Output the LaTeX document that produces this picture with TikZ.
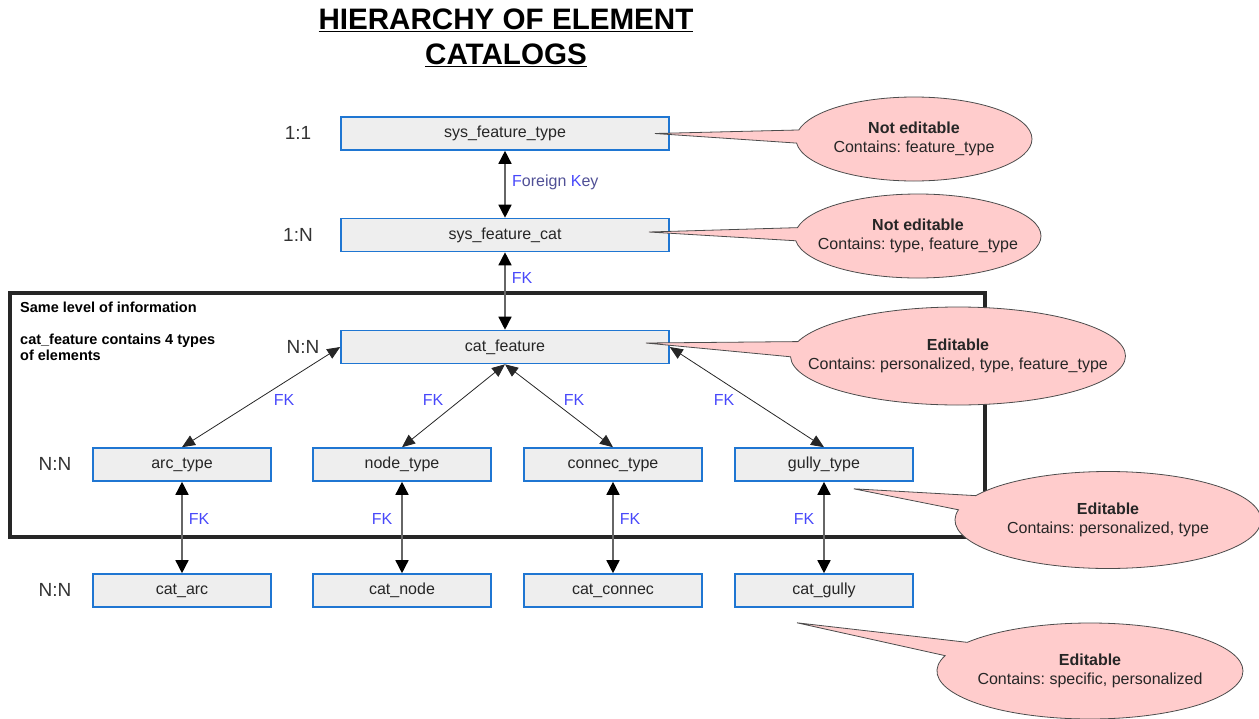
\documentclass[tikz,border=0pt]{standalone}
\usepackage{fontspec}
\setmainfont{Liberation Sans}
\usepackage{xcolor}
\usetikzlibrary{arrows.meta,shapes.callouts,calc}
\frenchspacing

\definecolor{boxblue}{RGB}{31,118,210}
\definecolor{boxgray}{RGB}{238,238,238}
\definecolor{notepink}{RGB}{255,204,204}
\definecolor{fkblue}{RGB}{72,72,250}
\definecolor{fkdark}{RGB}{80,80,150}

\begin{document}
\begin{tikzpicture}[
      x=1pt, y=-1pt,
      tbl/.style={draw=boxblue, line width=1.6pt, fill=boxgray, minimum height=33pt, inner sep=0pt, font=\fontsize{16}{19}\selectfont, text=black!85},
      wide/.style={tbl, minimum width=328pt},
      narrow/.style={tbl, minimum width=178pt},
      card/.style={font=\fontsize{19}{22}\selectfont, text=black!80},
      fk/.style={font=\fontsize{16}{19}\selectfont, text=fkblue, inner sep=1pt},
      info/.style={font=\bfseries\fontsize{14.5}{16}\selectfont, align=left, inner sep=0pt},
      arr/.style={{Triangle[length=13pt,width=13pt,color=black]}-{Triangle[length=13pt,width=13pt,color=black]}, draw=black!60, line width=1.5pt},
      diag/.style={{Triangle[length=13pt,width=11pt]}-{Triangle[length=13pt,width=11pt]}, draw=black!85, line width=0.8pt},
      note/.style={ellipse callout, draw=black!70, line width=0.8pt, fill=notepink, align=center, inner ysep=0pt, inner xsep=-45pt, callout pointer arc=18, font=\fontsize{16}{19}\selectfont, text=black!85},
    ]
    \useasboundingbox (0,0) rectangle (1259,718);

    % title
    \node[font=\bfseries\fontsize{29.6}{35}\selectfont, align=center] (title) at (506,38) {\underline{HIERARCHY OF ELEMENT}\\\underline{CATALOGS}};

    % frame around the same level
    \draw[line width=3.5pt, black!85] (10,293) rectangle (985,537);
    \node[info, anchor=west] (same) at (20,307) {Same level of information};
    \node[info, anchor=north west] (four) at (20,334) {cat\_feature contains 4 types\\of elements};

    % tables
    \node[wide] (ftype) at (505,133.5) {sys\_feature\_type};
    \node[wide] (fcat) at (505,235) {sys\_feature\_cat};
    \node[wide] (catfeat) at (505,347) {cat\_feature};
    \node[narrow] (arctype) at (182,464.5) {arc\_type};
    \node[narrow] (nodetype) at (402,464.5) {node\_type};
    \node[narrow] (connectype) at (613,464.5) {connec\_type};
    \node[narrow] (gullytype) at (824,464.5) {gully\_type};
    \node[narrow] (catarc) at (182,590.5) {cat\_arc};
    \node[narrow] (catnode) at (402,590.5) {cat\_node};
    \node[narrow] (catconnec) at (613,590.5) {cat\_connec};
    \node[narrow] (catgully) at (824,590.5) {cat\_gully};

    % cardinalities
    \node[card] (c11) at (298,133) {1:1};
    \node[card] (c1n) at (298,235) {1:N};
    \node[card] (cnn) at (303,347) {N:N};
    \node[card] (cnntype) at (55,464) {N:N};
    \node[card] (cnncat) at (55,590) {N:N};

    % keys
    \draw[arr] (ftype) -- (fcat);
    \draw[arr] (fcat) -- (catfeat);
    \draw[diag] (catfeat.west) -- (arctype.north);
    \draw[diag] (catfeat.south) -- (nodetype.north);
    \draw[diag] (catfeat.south) -- (connectype.north);
    \draw[diag] (catfeat.east) -- (gullytype.north);
    \draw[arr] (arctype) -- (catarc);
    \draw[arr] (nodetype) -- (catnode);
    \draw[arr] (connectype) -- (catconnec);
    \draw[arr] (gullytype) -- (catgully);

    \node[fk, anchor=west] (fkey) at (511,182) {F\textcolor{fkdark}{oreign} K\textcolor{fkdark}{ey}};
    \node[fk] (fk1) at (522,278) {FK};
    \node[fk] (fk2) at (284,400) {FK};
    \node[fk] (fk3) at (433,400) {FK};
    \node[fk] (fk4) at (574,400) {FK};
    \node[fk] (fk5) at (724,400) {FK};
    \node[fk] (fk6) at (199,519) {FK};
    \node[fk] (fk7) at (382,519) {FK};
    \node[fk] (fk8) at (630,519) {FK};
    \node[fk] (fk9) at (804,519) {FK};

    % notes
    \node[note, minimum width=236pt, minimum height=84pt, callout absolute pointer={($(ftype.east)+(-15,0)$)}] (noteftype) at (914,139) {\textbf{Not editable}\\Contains: feature\_type};
    \node[note, minimum width=246pt, minimum height=84pt, callout absolute pointer={($(fcat.east)+(-21,-3)$)}] (notefcat) at (918,236) {\textbf{Not editable}\\Contains: type, feature\_type};
    \node[note, minimum width=335pt, minimum height=98pt, callout absolute pointer={($(catfeat.east)+(-24,-4)$)}] (notecatfeat) at (958,356) {\textbf{Editable}\\Contains: personalized, type, feature\_type};
    \node[note, minimum width=306pt, minimum height=97pt, callout absolute pointer={($(gullytype.south east)+(-60,7)$)}] (notetype) at (1108,520) {\textbf{Editable}\\Contains: personalized, type};
    \node[note, minimum width=306pt, minimum height=96pt, callout absolute pointer={($(catgully.south)+(-27,15)$)}] (notecat) at (1090,671) {\textbf{Editable}\\Contains: specific, personalized};
  \end{tikzpicture}
\end{document}
